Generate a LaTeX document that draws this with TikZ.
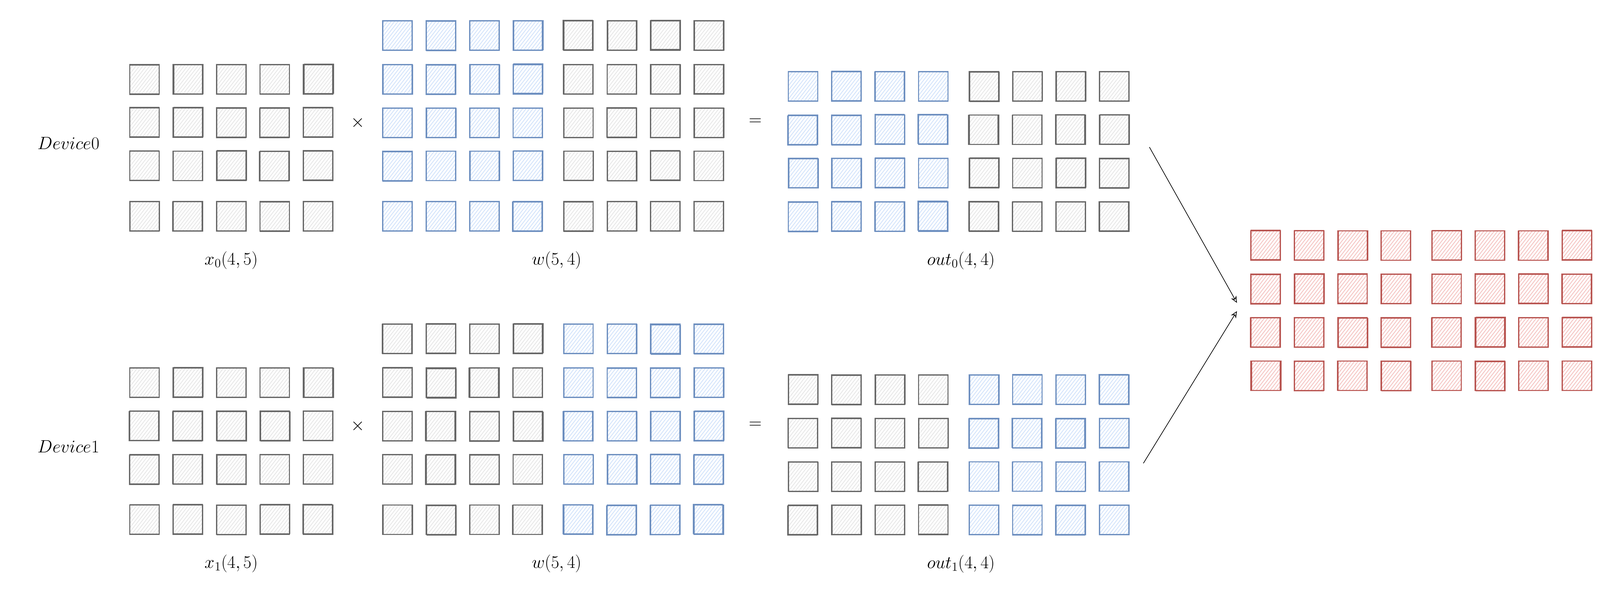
\documentclass[tikz,border=0pt]{standalone}
\usepackage{fix-cm}
\usepackage{tikz}
\usetikzlibrary{positioning,arrows.meta,patterns.meta}
\definecolor{grayline}{HTML}{666666}
\definecolor{grayfill}{HTML}{E8E8E8}
\definecolor{blueline}{HTML}{6C8EBF}
\definecolor{bluefill}{HTML}{D4E4FB}
\definecolor{redline}{HTML}{B85450}
\definecolor{redfill}{HTML}{F5C6C4}
\tikzstyle{cell}       = [rectangle, minimum size=1.22cm, inner sep=0pt, line width=1.4pt, pattern={Lines[angle=52,distance=3.2pt,line width=1pt]}]
\tikzstyle{sketch}     = [postaction={draw, line width=0.8pt, transform canvas={shift={({0.035*rand},{0.035*rand})}}}]
\tikzstyle{graycell}   = [cell, draw=grayline, pattern color=grayfill, sketch]
\tikzstyle{bluecell}   = [cell, draw=blueline, pattern color=bluefill, sketch]
\tikzstyle{redcell}    = [cell, draw=redline, pattern color=redfill, sketch]
\tikzstyle{mathtext}   = [font=\fontsize{21}{25}\selectfont, inner sep=0pt]
\tikzstyle{mergearrow} = [line width=0.75pt, -{Stealth[open, length=8pt, width=7pt]}]

\begin{document}
\begin{tikzpicture}
    \useasboundingbox (0,0) rectangle (66.33,-24.75);

    % one row of matrices per device
    \foreach \d/\dy/\lstyle/\rstyle in {0/0/bluecell/graycell, 1/12.58/graycell/bluecell} {
        \node[mathtext] (dev\d) at (2.84, {-5.93-\dy}) {$Device\d$};

        % x_d (4,5)
        \foreach \r/\y in {1/3.29, 2/5.08, 3/6.88, 4/8.97}
            \foreach \c in {1,...,5}
                \node[graycell] (x\d-\r-\c) at ({4.19+1.8*\c}, {-\y-\dy}) {};
        \node[mathtext] (xl\d) at (9.59, {-10.79-\dy}) {$x_\d(4,5)$};

        \node[mathtext] (times\d) at (14.83, {-5.09-\dy}) {$\times$};

        % w (5,4), split in two halves
        \foreach \r/\y in {1/1.47, 2/3.29, 3/5.09, 4/6.88, 5/8.97} {
            \foreach \c in {1,...,4}
                \node[\lstyle] (w\d-\r-\c) at ({14.68+1.8*\c}, {-\y-\dy}) {};
            \foreach \c in {5,...,8}
                \node[\rstyle] (w\d-\r-\c) at ({14.98+1.8*\c}, {-\y-\dy}) {};
        }
        \node[mathtext] (wl\d) at (23.08, {-10.79-\dy}) {$w(5,4)$};

        \node[mathtext] (eq\d) at (31.32, {-5.05-\dy}) {$=$};

        % out_d (4,4)
        \foreach \r in {1,...,4} {
            \foreach \c in {1,...,4}
                \node[\lstyle] (out\d-\r-\c) at ({31.49+1.8*\c}, {-1.78-1.8*\r-\dy}) {};
            \foreach \c in {5,...,8}
                \node[\rstyle] (out\d-\r-\c) at ({31.79+1.8*\c}, {-1.78-1.8*\r-\dy}) {};
        }
        \node[mathtext] (outl\d) at (39.84, {-10.80-\dy}) {$out_\d(4,4)$};
    }

    % merged result
    \foreach \r in {1,...,4} {
        \foreach \c in {1,...,4}
            \node[redcell] (res-\r-\c) at ({50.67+1.8*\c}, {-8.38-1.8*\r}) {};
        \foreach \c in {5,...,8}
            \node[redcell] (res-\r-\c) at ({50.97+1.8*\c}, {-8.38-1.8*\r}) {};
    }

    \coordinate (from0) at (47.65,-6.10);
    \coordinate (to0)   at (51.28,-12.56);
    \coordinate (from1) at (47.40,-19.21);
    \coordinate (to1)   at (51.28,-12.90);
    \draw[mergearrow] (from0) -- (to0);
    \draw[mergearrow] (from1) -- (to1);
\end{tikzpicture}
\end{document}
